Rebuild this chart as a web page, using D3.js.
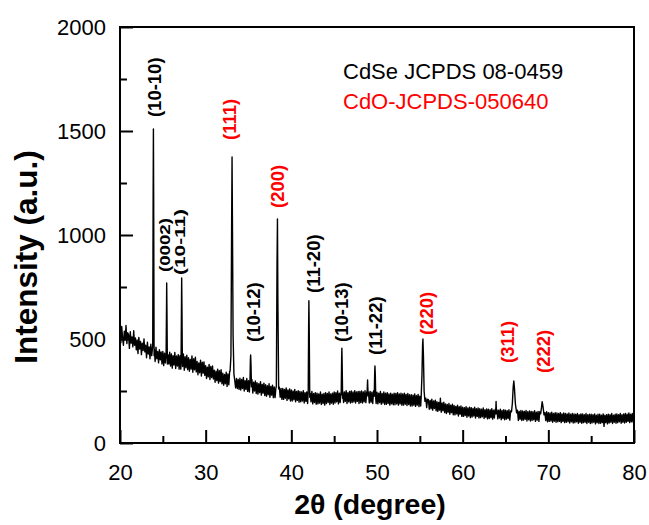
<!DOCTYPE html>
<html>
<head>
<meta charset="utf-8">
<script src="https://cdn.jsdelivr.net/npm/d3@7"></script>
<style>
html,body{margin:0;padding:0;background:#fff;}
svg{display:block;font-family:"Liberation Sans",Arial,sans-serif;}
</style>
</head>
<body>
<svg id="chart" width="649" height="525"></svg>
<script>
// ---------- DATA ----------
// background intensity, read every 0.1 deg from 20.0 to 80.0 (one row per degree)
const bgStart = 20, bgStep = 0.1;
const bgValues = [
 548,482,560,505,470,538,495,565,478,530,
 520,455,535,480,510,462,540,470,505,448,
 495,430,508,452,488,425,480,445,500,438,
 470,410,485,428,462,405,475,420,458,400,
 452,392,460,405,440,385,448,400,438,380,
 440,372,432,385,445,368,425,380,436,370,
 428,360,420,375,435,358,418,370,425,355,
 420,355,412,368,428,350,415,362,422,352,
 410,345,402,355,418,340,405,352,412,342,
 392,328,385,338,398,322,388,335,390,325,
 372,310,365,318,378,305,368,315,370,308,
 350,292,345,300,355,288,348,295,352,285,
 335,278,330,285,340,272,332,280,345,350,
 320,330,310,300,300,265,310,262,305,258,
 312,255,305,262,315,250,300,258,310,248,
 300,245,295,252,305,240,292,250,298,238,
 290,235,285,242,295,230,282,240,288,228,
 280,225,275,232,285,220,272,230,278,218,
 270,218,265,225,275,212,268,220,262,210,
 262,210,258,215,265,205,255,212,260,202,
 255,202,250,208,258,198,248,205,252,196,
 248,198,245,202,252,192,242,200,246,190,
 245,192,240,198,248,188,238,195,242,186,
 240,188,236,192,245,185,235,190,238,182,
 242,190,238,195,246,185,236,192,240,186,
 245,192,242,198,250,188,240,195,244,190,
 248,195,245,200,252,190,242,198,248,192,
 250,195,245,198,252,192,246,200,248,190,
 248,195,250,192,246,198,252,194,245,196,
 246,192,248,196,244,190,250,194,242,190,
 244,188,240,194,248,186,238,192,245,185,
 240,186,242,190,236,182,240,188,235,184,
 240,184,238,188,242,182,236,188,240,182,
 236,182,240,186,234,180,238,185,232,178,
 232,178,230,182,236,176,228,182,234,175,
 225,178,300,400,450,300,220,215,170,210,
 208,162,205,165,210,158,202,166,206,155,
 198,152,195,158,200,148,192,155,196,146,
 188,142,185,148,190,138,182,146,186,136,
 180,135,176,140,182,130,175,138,178,128,
 172,128,170,132,175,124,168,130,172,122,
 170,125,166,130,172,120,165,128,168,120,
 165,122,162,126,168,118,160,124,164,116,
 162,118,160,122,165,115,158,120,162,114,
 160,116,158,120,162,112,156,118,160,112,
 158,115,155,118,160,110,154,116,158,110,
 156,112,154,116,158,108,152,114,156,108,
 154,110,152,114,156,106,150,112,154,106,
 152,108,150,112,155,104,148,110,152,104,
 150,106,148,110,152,102,146,108,150,102,
 146,104,144,106,148,100,142,105,146,100,
 144,102,142,104,146,98,140,104,144,98,
 142,100,140,102,144,96,138,102,142,96,
 140,98,138,102,142,95,136,100,140,95,
 140,98,136,100,142,94,136,100,138,94,
 138,96,136,100,140,92,134,98,138,94,
 138,95,134,98,140,80,134,98,136,92,
 138,96,136,100,142,94,134,100,138,95,
 140,98,136,102,142,95,136,100,140,96,
 142,100,138,104,145,98,138,102,142,100,
 128
];

// diffraction peaks: hand-read profile points [2theta, intensity]
const peakProfiles = [
 [[23.82,470],[23.87,1200],[23.9,1510],[23.93,1190],[23.98,420]],
 [[25.38,420],[25.43,650],[25.45,769],[25.48,640],[25.53,380]],
 [[27.13,400],[27.18,680],[27.2,793],[27.23,660],[27.28,390]],
 [[32.85,345],[32.95,420],[33.03,1040],[33.08,1375],[33.13,1030],[33.2,520],[33.3,330]],
 [[35.17,290],[35.22,400],[35.25,423],[35.29,380],[35.35,270]],
 [[38.25,270],[38.33,865],[38.38,1077],[38.43,680],[38.52,260]],
 [[41.97,240],[42.02,560],[42.05,684],[42.09,540],[42.15,220]],
 [[45.82,230],[45.87,400],[45.9,456],[45.93,390],[45.99,215]],
 [[48.83,225],[48.9,303],[48.96,230]],
 [[49.68,225],[49.73,340],[49.76,370],[49.8,330],[49.86,210]],
 [[55.15,215],[55.25,330],[55.32,470],[55.36,500],[55.42,420],[55.5,250],[55.6,200]],
 [[57.35,180],[57.4,215],[57.45,170]],
 [[63.85,140],[63.9,200],[63.95,140]],
 [[65.7,150],[65.8,190],[65.9,270],[65.97,298],[66.05,260],[66.15,190],[66.3,145]],
 [[69.1,140],[69.2,170],[69.28,199],[69.36,180],[69.5,135]]
];

// peak labels (positions in data units: 2theta, intensity at label start)
const labelTexts  = ["(10-10)","(0002)","(10-11)","(111)","(10-12)","(200)","(11-20)","(10-13)","(11-22)","(220)","(311)","(222)"];
const labelTheta  = [24.03, 25.25, 27.0, 32.84, 35.64, 38.33, 42.53, 45.8, 49.77, 55.72, 65.29, 69.49];
const labelInt    = [1567, 822, 808, 1457, 486, 1130, 721, 486, 423, 519, 385, 337];
const labelPhase  = ["CdSe","CdSe-c","CdSe-c","CdO","CdSe","CdO","CdSe","CdSe","CdSe","CdO","CdO","CdO"];

const legendTexts = ["CdSe JCPDS 08-0459", "CdO-JCPDS-050640"];
const xTicks = [20,30,40,50,60,70,80];
const xMinor = [25,35,45,55,65,75];
const yTicks = [0,500,1000,1500,2000];
const yMinor = [250,750,1250,1750];

// ---------- BUILD SERIES ----------
const bg = bgValues.map((v,i)=>[+(bgStart+i*bgStep).toFixed(2), v]);
const ranges = peakProfiles.map(p=>[p[0][0], p[p.length-1][0]]);
const bgKept = bg.filter(d=>!ranges.some(r=>d[0]>=r[0]-1e-9 && d[0]<=r[1]+1e-9));
const series = bgKept.concat(...peakProfiles).sort((a,b)=>a[0]-b[0]);

// ---------- DRAW ----------
const svg = d3.select("#chart");
const L=120, T=27, R=634, B=443;
const x = d3.scaleLinear().domain([20,80]).range([L,R]);
const y = d3.scaleLinear().domain([0,2000]).range([B,T]);

// data line
svg.append("path")
  .datum(series)
  .attr("fill","none")
  .attr("stroke","#000")
  .attr("stroke-width",1.4)
  .attr("stroke-linejoin","round")
  .attr("d", d3.line().x(d=>x(d[0])).y(d=>y(d[1])));

// axes
const gx = svg.append("g").attr("transform",`translate(0,${B})`)
  .call(d3.axisBottom(x).tickValues(xTicks).tickSizeInner(-13).tickSizeOuter(0).tickPadding(21).tickFormat(d3.format("d")));
const gxm = svg.append("g").attr("transform",`translate(0,${B})`)
  .call(d3.axisBottom(x).tickValues(xMinor).tickSizeInner(-7).tickSizeOuter(0).tickFormat(""));
const gy = svg.append("g").attr("transform",`translate(${L},0)`)
  .call(d3.axisLeft(y).tickValues(yTicks).tickSizeInner(-13).tickSizeOuter(0).tickPadding(14).tickFormat(d3.format("d")));
const gym = svg.append("g").attr("transform",`translate(${L},0)`)
  .call(d3.axisLeft(y).tickValues(yMinor).tickSizeInner(-7).tickSizeOuter(0).tickFormat(""));

[gx,gxm,gy,gym].forEach(g=>{
  g.select(".domain").remove();
  g.selectAll(".tick line").attr("stroke","#000").attr("stroke-width",2);
  g.selectAll(".tick text").attr("fill","#000")
    .style("font-family",'"Liberation Sans",Arial,sans-serif').style("font-size","22px");
});

// frame
svg.append("rect").attr("x",L).attr("y",T).attr("width",R-L).attr("height",B-T)
  .attr("fill","none").attr("stroke","#000").attr("stroke-width",2);

// axis titles
svg.append("text").attr("x",370).attr("y",514).attr("text-anchor","middle")
  .style("font-size","28.5px").style("font-weight","bold").text("2θ (degree)");
svg.append("text").attr("transform","translate(37,257) rotate(-90)").attr("text-anchor","middle")
  .style("font-size","31.5px").style("font-weight","bold").text("Intensity (a.u.)");

// legend
svg.append("text").attr("x",343).attr("y",79).style("font-size","22px").attr("fill","#000").text(legendTexts[0]);
svg.append("text").attr("x",343).attr("y",109).style("font-size","22px").attr("fill","#ff0000").text(legendTexts[1]);

// peak labels
labelTexts.forEach((t,i)=>{
  const ph = labelPhase[i];
  const condensed = ph==="CdSe-c";
  const txt = svg.append("text")
    .attr("transform",`translate(${x(labelTheta[i])},${y(labelInt[i])}) rotate(-90)`)
    .attr("text-anchor","start")
    .attr("dominant-baseline","central")
    .attr("fill", ph==="CdO" ? "#ff0000" : "#000")
    .style("font-size", condensed ? "15px" : "18.5px")
    .style("font-weight", "bold")
    .text(t);
  if (condensed) {
    txt.attr("textLength", t==="(0002)" ? 54 : 66).attr("lengthAdjust","spacingAndGlyphs");
  }
});
</script>
</body>
</html>
